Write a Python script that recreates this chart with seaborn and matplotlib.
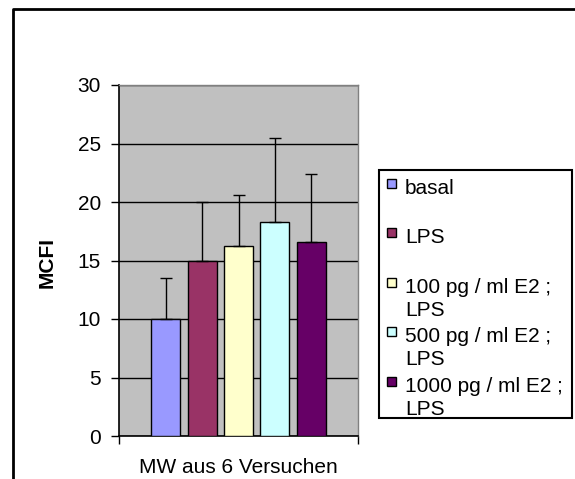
import matplotlib
matplotlib.use("Agg")
import matplotlib.pyplot as plt
import seaborn as sns
import pandas as pd
from matplotlib.patches import Rectangle
from matplotlib.lines import Line2D

# data
category = "MW aus 6 Versuchen"
conditions = ["basal", "LPS", "100 pg / ml E2 ;\nLPS",
              "500 pg / ml E2 ;\nLPS", "1000 pg / ml E2 ;\nLPS"]
means = [10.0, 15.0, 16.2, 18.3, 16.6]
upper_ends = [13.5, 20.0, 20.6, 25.5, 22.4]
colors = ["#9999FF", "#993366", "#FFFFCC", "#CCFFFF", "#660066"]
yticks = [0, 5, 10, 15, 20, 25, 30]

sns.set_theme(style="white", rc={"text.color": "black",
                                 "xtick.color": "black",
                                 "ytick.color": "black",
                                 "axes.labelcolor": "black"})
plt.rcParams["font.family"] = ["Liberation Sans", "DejaVu Sans"]
FS = 15

W, H = 575, 479
fig = plt.figure(figsize=(W / 100, H / 100), dpi=100)
ax = fig.add_axes([119 / W, 1 - 436 / H, (358 - 119) / W, (436 - 85) / H])
ax.set_facecolor("#C0C0C0")

df = pd.DataFrame({"cat": [category] * len(conditions),
                   "cond": conditions, "MCFI": means})
sns.barplot(data=df, x="cat", y="MCFI", hue="cond", hue_order=conditions,
            palette=colors, saturation=1, width=0.76, gap=0.2,
            edgecolor="black", linewidth=1, errorbar=None, legend=False,
            ax=ax, zorder=3)

# one-sided error bars on top of each bar
bars = sorted(ax.patches, key=lambda p: p.get_x())
xs = [p.get_x() + p.get_width() / 2 for p in bars]
errs = [u - m for u, m in zip(upper_ends, means)]
ax.errorbar(xs, means, yerr=[[0] * len(errs), errs], fmt="none",
            ecolor="black", elinewidth=1, capsize=4, capthick=1, zorder=4)

ax.set_xlim(-0.5, 0.5)
ax.set_ylim(0, 30)
ax.set_yticks(yticks)
ax.yaxis.grid(True, color="black", linewidth=1, zorder=1)
ax.set_axisbelow(True)
ax.set_xlabel("")
ax.set_ylabel("")
ax.tick_params(axis="y", which="major", direction="out", length=6, width=1,
               color="black", left=True, labelsize=FS, pad=7)
ax.tick_params(axis="x", which="major", length=0, labelsize=FS, pad=16)
ax.set_xticks([-0.5, 0.5], minor=True)
ax.tick_params(axis="x", which="minor", direction="out", length=6, width=1,
               color="black", bottom=True)
for side in ["left", "bottom"]:
    ax.spines[side].set_color("black")
    ax.spines[side].set_linewidth(1.2)
for side in ["top", "right"]:
    ax.spines[side].set_color("#808080")
    ax.spines[side].set_linewidth(1)

fig.text(47 / W, 1 - 262 / H, "MCFI", rotation=90, ha="center", va="center",
         fontsize=FS, fontweight="bold")

# legend box drawn by hand, Excel style
fig.patches.append(Rectangle((379 / W, 1 - 418 / H), (572 - 379) / W,
                             (418 - 170) / H, transform=fig.transFigure,
                             facecolor="white", edgecolor="black",
                             linewidth=1.5))
baselines = [194, 243, 293, 342, 392]
for label, color, base in zip(conditions, colors, baselines):
    fig.patches.append(Rectangle((387 / W, 1 - (base - 6) / H), 9 / W, 9 / H,
                                 transform=fig.transFigure, facecolor=color,
                                 edgecolor="black", linewidth=1))
    for i, line in enumerate(label.split("\n")):
        fig.text(405 / W, 1 - (base + i * 23) / H, line, ha="left",
                 va="baseline", fontsize=FS)

# outer chart frame
fig.lines.append(Line2D([13 / W, 13 / W, 1], [0, 1 - 9 / H, 1 - 9 / H],
                        transform=fig.transFigure, color="black",
                        linewidth=2))

fig.savefig("out.png", dpi=100)
